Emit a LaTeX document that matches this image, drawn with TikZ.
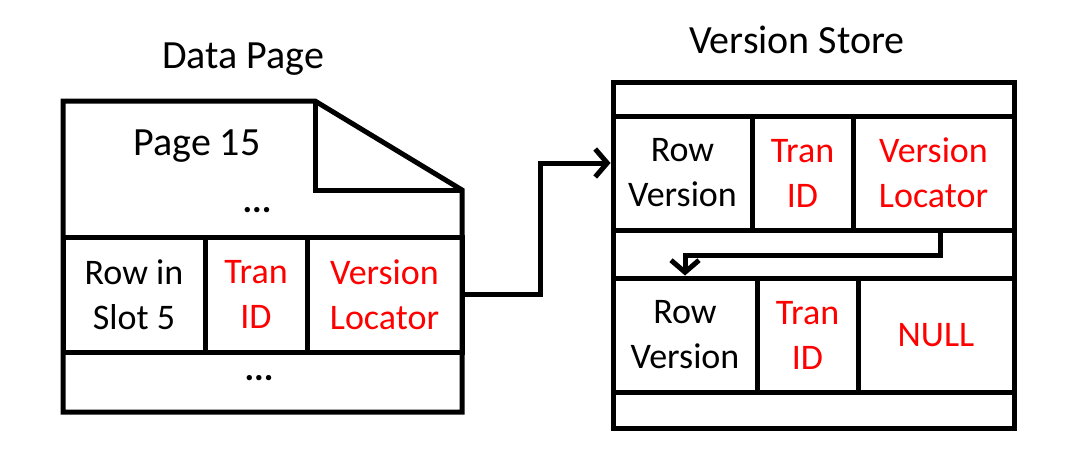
\documentclass[tikz,border=0pt]{standalone}
\usepackage{fontspec}
\setmainfont{Carlito}
\usepackage{tikz}
\usetikzlibrary{arrows.meta}

\begin{document}
\begin{tikzpicture}[x=1pt, y=-1pt, line width=5pt,
    cell/.style={draw, inner sep=0pt, align=center, font=\fontsize{36}{45}\selectfont},
    field/.style={cell, text=red},
    plain/.style={inner sep=0pt, font=\fontsize{36}{45}\selectfont\bfseries},
    heading/.style={inner sep=0pt, anchor=base, font=\fontsize{40}{48}\selectfont},
    link/.style={-{Straight Barb[length=12pt, width=28pt]}}]
  \useasboundingbox (0,0) rectangle (1068,450);

  % data page
  \node[heading] (datatitle) at (243,68) {Data Page};
  \draw (63,101) -- (315,101) -- (462,190) -- (462,412) -- (63,412) -- cycle;
  \draw (315,101) -- (315,190) -- (462,190);
  \node[heading] (pagenum) at (197,155) {Page 15};
  \node[plain, anchor=base] (topdots) at (257,212) {...};
  \node[cell, minimum width=142, minimum height=115] (slotrow) at (134,294.5) {Row in\\Slot 5};
  \node[field, minimum width=102, minimum height=115] (slottran) at (256,294.5) {Tran\\ID};
  \node[field, minimum width=155, minimum height=115] (slotloc) at (384.5,294.5) {Version\\Locator};
  \node[plain, anchor=base] (bottomdots) at (259,380) {...};

  % version store
  \node[heading] (storetitle) at (797,53) {Version Store};
  \draw (613,82) rectangle (1014,428);
  \node[cell, minimum width=139, minimum height=114] (firstrow) at (682.5,173) {Row\\Version};
  \node[field, minimum width=101, minimum height=114] (firsttran) at (802.5,173) {Tran\\ID};
  \node[field, minimum width=161, minimum height=114] (firstloc) at (933.5,173) {Version\\Locator};
  \node[cell, minimum width=144, minimum height=114] (secondrow) at (685,335) {Row\\Version};
  \node[field, minimum width=101, minimum height=114] (secondtran) at (807.5,335) {Tran\\ID};
  \node[field, minimum width=156, minimum height=114] (secondnull) at (936,335) {NULL};

  \draw[link] (slotloc.east) -- ++(76,0) |- ([yshift=10pt]firstrow.west);
  \draw[link] ([xshift=7pt]firstloc.south) -- ++(0,23) -| (secondrow.north);
\end{tikzpicture}
\end{document}
